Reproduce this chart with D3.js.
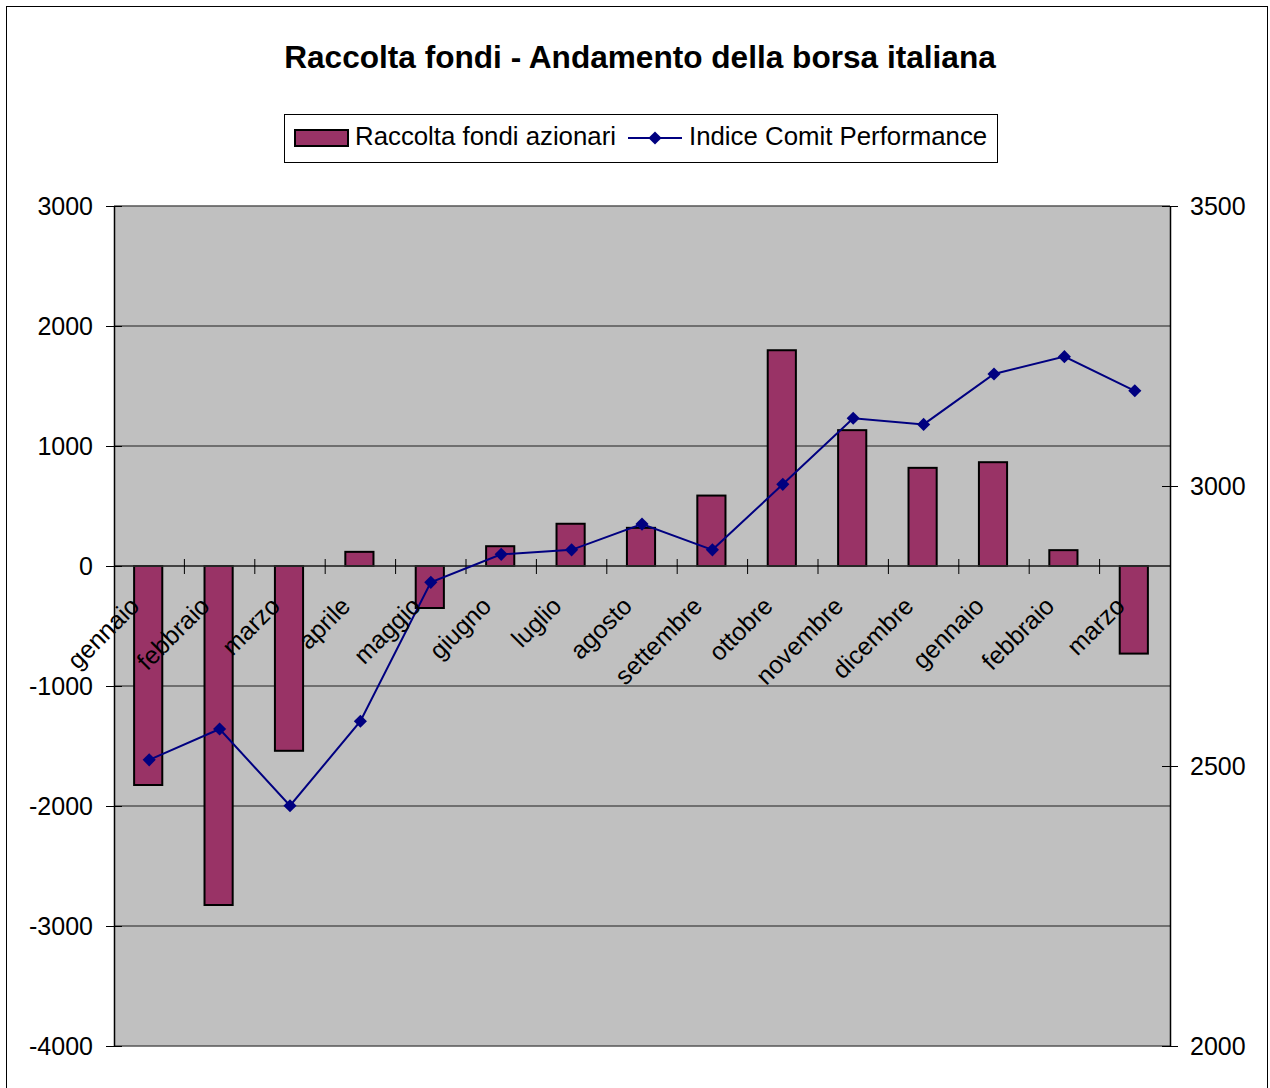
<!DOCTYPE html>
<html>
<head>
<meta charset="utf-8">
<script src="https://cdn.jsdelivr.net/npm/d3@7"></script>
<style>
  html, body { margin: 0; padding: 0; background: #fff; }
  svg { display: block; font-family: Arial, "Liberation Sans", sans-serif; }
</style>
</head>
<body>
<svg id="chart" width="1270" height="1088"></svg>
<script>
const categories = ["gennaio","febbraio","marzo","aprile","maggio","giugno","luglio","agosto","settembre","ottobre","novembre","dicembre","gennaio","febbraio","marzo"];
const raccolta = [-1825, -2825, -1540, 118, -350, 165, 352, 318, 587, 1798, 1132, 818, 865, 132, -730];
const indice = [2511, 2566, 2429, 2580, 2828, 2878, 2886, 2932, 2886, 3003, 3121, 3110, 3200, 3231, 3170];
const leftTicks = [-4000, -3000, -2000, -1000, 0, 1000, 2000, 3000];
const rightTicks = [2000, 2500, 3000, 3500];
const seriesNames = ["Raccolta fondi azionari", "Indice Comit Performance"];
const title = "Raccolta fondi - Andamento della borsa italiana";

const svg = d3.select("#chart");
const plot = {left: 114, right: 1170, top: 206, bottom: 1046};

const barColor = "#993366", lineColor = "#000080", gridColor = "#555555", plotBg = "#c0c0c0";
const FONT = "Arial, 'Liberation Sans', sans-serif";
const fmt = d => String(d);

// outer border
svg.append("rect").attr("x", 6.5).attr("y", 6.5).attr("width", 1261).attr("height", 1100)
  .attr("fill", "#fff").attr("stroke", "#000").attr("stroke-width", 1);

// title
svg.append("text").attr("x", 640).attr("y", 68).attr("text-anchor", "middle")
  .attr("font-size", 31.6).attr("font-weight", "bold").text(title);

const x = d3.scaleBand().domain(d3.range(categories.length)).range([plot.left, plot.right]).padding(0);
const y = d3.scaleLinear().domain([-4000, 3000]).range([plot.bottom, plot.top]);
const y2 = d3.scaleLinear().domain([2000, 3500]).range([plot.bottom, plot.top]);

// plot background
svg.append("rect").attr("x", plot.left).attr("y", plot.top)
  .attr("width", plot.right - plot.left).attr("height", plot.bottom - plot.top).attr("fill", plotBg);

// gridlines
svg.append("g").selectAll("line").data(leftTicks).join("line")
  .attr("x1", plot.left).attr("x2", plot.right)
  .attr("y1", d => y(d)).attr("y2", d => y(d))
  .attr("stroke", gridColor).attr("stroke-width", 1.5);

// bars
const bw = x.bandwidth() * 0.4;
svg.append("g").selectAll("rect").data(raccolta).join("rect")
  .attr("x", (d, i) => x(i) + x.bandwidth() / 2 - bw / 2 - 1)
  .attr("y", d => Math.min(y(d), y(0)))
  .attr("width", bw)
  .attr("height", d => Math.abs(y(d) - y(0)))
  .attr("fill", barColor).attr("stroke", "#000").attr("stroke-width", 2);

// category axis (zero line) and ticks
const catAxis = svg.append("g");
catAxis.append("line").attr("x1", plot.left).attr("x2", plot.right)
  .attr("y1", y(0)).attr("y2", y(0)).attr("stroke", "#333").attr("stroke-width", 1.5);
catAxis.selectAll("line.tk").data(d3.range(1, categories.length)).join("line").attr("class", "tk")
  .attr("x1", i => x(i)).attr("x2", i => x(i))
  .attr("y1", y(0) - 7).attr("y2", y(0) + 8)
  .attr("stroke", "#000").attr("stroke-width", 1);

// left axis
const la = svg.append("g").attr("transform", `translate(${plot.left},0)`)
  .call(d3.axisLeft(y).tickValues(leftTicks).tickSizeInner(8).tickSizeOuter(0).tickPadding(13).tickFormat(fmt));
la.select(".domain").attr("stroke", "#000").attr("stroke-width", 1.5);
la.selectAll(".tick line").attr("x1", -8).attr("x2", 8).attr("stroke", "#000");
la.selectAll(".tick text").attr("font-size", 25).attr("font-family", FONT).attr("fill", "#000");

// right axis
const ra = svg.append("g").attr("transform", `translate(${plot.right},0)`)
  .call(d3.axisRight(y2).tickValues(rightTicks).tickSizeInner(8).tickSizeOuter(0).tickPadding(12).tickFormat(fmt));
ra.select(".domain").attr("stroke", "#000").attr("stroke-width", 1.5);
ra.selectAll(".tick line").attr("x1", -8).attr("x2", 8).attr("stroke", "#000");
ra.selectAll(".tick text").attr("font-size", 25).attr("font-family", FONT).attr("fill", "#000");

// line
const cx = i => x(i) + x.bandwidth() / 2;
const line = d3.line().x((d, i) => cx(i)).y(d => y2(d));
svg.append("path").datum(indice).attr("d", line)
  .attr("fill", "none").attr("stroke", lineColor).attr("stroke-width", 2);
const diamond = d3.symbol().type(d3.symbolDiamond2).size(110);
svg.append("g").selectAll("path").data(indice).join("path")
  .attr("d", diamond)
  .attr("transform", (d, i) => `translate(${cx(i)},${y2(d)})`)
  .attr("fill", lineColor);

// category labels
svg.append("g").selectAll("text").data(categories).join("text")
  .attr("transform", (d, i) => `translate(${cx(i) - 21},${y(0) + 29}) rotate(-45)`)
  .attr("text-anchor", "end").attr("dy", "0.71em")
  .attr("font-size", 25).text(d => d);

// legend
const lg = svg.append("g");
lg.append("rect").attr("x", 284.5).attr("y", 114.5).attr("width", 713).attr("height", 48)
  .attr("fill", "#fff").attr("stroke", "#000").attr("stroke-width", 1);
lg.append("rect").attr("x", 295).attr("y", 130).attr("width", 53).attr("height", 16)
  .attr("fill", barColor).attr("stroke", "#000").attr("stroke-width", 2);
lg.append("text").attr("x", 355).attr("y", 145).attr("font-size", 25.8).text(seriesNames[0]);
lg.append("line").attr("x1", 628).attr("x2", 682).attr("y1", 138).attr("y2", 138)
  .attr("stroke", lineColor).attr("stroke-width", 2);
lg.append("path").attr("d", diamond).attr("transform", "translate(655,138)").attr("fill", lineColor);
lg.append("text").attr("x", 689).attr("y", 145).attr("font-size", 25.8).text(seriesNames[1]);
</script>
</body>
</html>
